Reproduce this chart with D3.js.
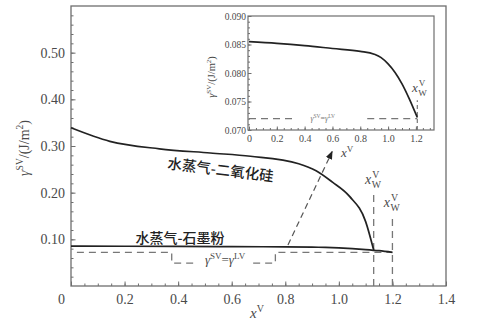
<!DOCTYPE html>
<html>
<head>
<meta charset="utf-8">
<script src="https://cdn.jsdelivr.net/npm/d3@7"></script>
<style>
  html, body { margin: 0; padding: 0; background: #fff; }
  svg { display: block; }
</style>
</head>
<body>
<svg id="chart" width="487" height="326"></svg>
<script>
// ---- data ----
const xTicks = [0, 0.2, 0.4, 0.6, 0.8, 1.0, 1.2, 1.4];
const yTicks = [0.10, 0.20, 0.30, 0.40, 0.50];
const insetXTicks = [0, 0.2, 0.4, 0.6, 0.8, 1.0, 1.2];
const insetYTicks = [0.070, 0.075, 0.080, 0.085, 0.090];

// water vapour – silica
const sio2X = [0, 0.145, 0.33, 0.52, 0.67, 0.85, 0.915, 0.975, 1.04, 1.10, 1.13];
const sio2Y = [0.339, 0.310, 0.294, 0.285, 0.278, 0.262, 0.247, 0.223, 0.192, 0.138, 0.077];

// water vapour – graphite powder
const graphiteX = [0, 0.2, 0.4, 0.6, 0.8, 0.9, 0.95, 1.0, 1.05, 1.1, 1.15, 1.21];
const graphiteY = [0.0855, 0.0852, 0.0848, 0.0843, 0.0838, 0.0833, 0.0827, 0.0816, 0.0801, 0.0781, 0.0756, 0.0722];

const gammaLV = 0.072;       // γSV = γLV level
const xwSiO2 = 1.13;         // wetting limit, silica
const xwGraphite = 1.21;     // wetting limit, graphite

const labelSiO2 = "水蒸气-二氧化硅";
const labelGraphite = "水蒸气-石墨粉";

// ---- setup ----
const svg = d3.select("#chart");
const serif = '"Liberation Serif", "DejaVu Serif", "Times New Roman", serif';
const cjk = '"Noto Sans CJK SC", sans-serif';
const axisCol = "#6e6e6e";
const textCol = "#4a4a4a";
const lineCol = "#222";
const dashCol = "#777";

const x = d3.scaleLinear().domain([0, 1.4]).range([71, 446]);
const y = d3.scaleLinear().domain([0, 0.6]).range([286, 6]);

// frame
svg.append("rect")
  .attr("x", x(0)).attr("y", y(0.6))
  .attr("width", x(1.4) - x(0)).attr("height", y(0) - y(0.6))
  .attr("fill", "none").attr("stroke", axisCol).attr("stroke-width", 1.3);

// minor + major ticks, inward
function styleAxis(g) {
  g.attr("font-family", null).attr("font-size", null);
  g.select(".domain").remove();
  g.selectAll(".tick line").attr("stroke", axisCol).attr("stroke-width", 1);
  g.selectAll(".tick text").attr("fill", textCol).attr("font-family", serif);
}

svg.append("g").attr("transform", `translate(0,${y(0)})`)
  .call(d3.axisBottom(x).tickValues(d3.range(0.05, 1.4, 0.05)).tickSize(-2.5).tickFormat(""))
  .call(styleAxis);
const xAxisG = svg.append("g").attr("transform", `translate(0,${y(0)})`)
  .call(d3.axisBottom(x).tickValues(xTicks).tickSize(-4.5).tickPadding(8)
    .tickFormat(d => d === 0 ? "0" : d3.format(".1f")(d)))
  .call(styleAxis);
xAxisG.selectAll(".tick text").attr("font-size", 14);
xAxisG.selectAll(".tick").filter(d => d === 0).select("text").attr("dx", -10);

svg.append("g").attr("transform", `translate(${x(0)},0)`)
  .call(d3.axisLeft(y).tickValues(d3.range(0.02, 0.59, 0.02)).tickSize(-2.5).tickFormat(""))
  .call(styleAxis);
const yAxisG = svg.append("g").attr("transform", `translate(${x(0)},0)`)
  .call(d3.axisLeft(y).tickValues(yTicks).tickSize(-4.5).tickPadding(6).tickFormat(d3.format(".2f")))
  .call(styleAxis);
yAxisG.selectAll(".tick text").attr("font-size", 14);

// axis titles
const xt = svg.append("text").attr("x", 257).attr("y", 318)
  .attr("text-anchor", "middle").attr("fill", textCol)
  .attr("font-family", serif).attr("font-size", 15);
xt.append("tspan").attr("font-style", "italic").text("x");
xt.append("tspan").attr("dy", -6).attr("font-size", 10).text("V");

const yt = svg.append("text")
  .attr("transform", "translate(29,148) rotate(-90)")
  .attr("text-anchor", "middle").attr("fill", textCol)
  .attr("font-family", serif).attr("font-size", 14);
yt.append("tspan").attr("font-style", "italic").text("γ");
yt.append("tspan").attr("dy", -6).attr("font-size", 9.5).text("SV");
yt.append("tspan").attr("dy", 6).text("/(J/m");
yt.append("tspan").attr("dy", -6).attr("font-size", 9.5).text("2");
yt.append("tspan").attr("dy", 6).text(")");

// dashed guides
function dashed(pts, sx, sy, dash, w) {
  svg.append("path")
    .attr("d", d3.line().x(d => sx(d[0])).y(d => sy(d[1]))(pts))
    .attr("fill", "none").attr("stroke", dashCol)
    .attr("stroke-width", w || 1.3).attr("stroke-dasharray", dash || "7,5");
}
const notchY = 0.049;
dashed([[0.022, gammaLV], [0.376, gammaLV], [0.376, notchY], [0.47, notchY]], x, y);
dashed([[0.68, notchY], [0.763, notchY], [0.763, gammaLV], [xwGraphite - 0.01, gammaLV]], x, y, "7,5");
dashed([[xwSiO2, 0], [xwSiO2, 0.201]], x, y);
dashed([[xwGraphite - 0.01, 0], [xwGraphite - 0.01, 0.148]], x, y);

// γSV = γLV label
const gl = svg.append("text").attr("x", x(0.575)).attr("y", 264)
  .attr("text-anchor", "middle").attr("fill", textCol)
  .attr("font-family", serif).attr("font-size", 13);
gl.append("tspan").attr("font-style", "italic").text("γ");
gl.append("tspan").attr("dy", -5).attr("font-size", 9).text("SV");
gl.append("tspan").attr("dy", 5).text("=");
gl.append("tspan").attr("font-style", "italic").text("γ");
gl.append("tspan").attr("dy", -5).attr("font-size", 9).text("LV");

// curves
const curve = d3.line().curve(d3.curveMonotoneX);
svg.append("path")
  .attr("d", curve.x(i => x(sio2X[i])).y(i => y(sio2Y[i]))(d3.range(sio2X.length)))
  .attr("fill", "none").attr("stroke", lineCol).attr("stroke-width", 1.7);
const gMain = graphiteX.map((v, i) => [v, graphiteY[i]]).filter(d => d[0] <= 1.2);
gMain.push([xwGraphite - 0.01, graphiteY[graphiteY.length - 1]]);
svg.append("path")
  .attr("d", d3.line().curve(d3.curveMonotoneX).x(d => x(d[0])).y(d => y(d[1]))(gMain))
  .attr("fill", "none").attr("stroke", lineCol).attr("stroke-width", 1.7);

// xW labels: italic x with stacked V superscript and W subscript
function xwLabel(cx, by, size) {
  const g = svg.append("g").attr("fill", textCol).attr("font-family", serif);
  g.append("text").attr("x", cx - size * 0.04).attr("y", by).attr("text-anchor", "end")
    .attr("font-style", "italic").attr("font-size", size).text("x");
  g.append("text").attr("x", cx + size * 0.04).attr("y", by - size * 0.45).attr("text-anchor", "start")
    .attr("font-size", size * 0.7).text("V");
  g.append("text").attr("x", cx).attr("y", by + size * 0.28).attr("text-anchor", "start")
    .attr("font-size", size * 0.7).text("W");
}
xwLabel(x(xwSiO2) - 2, 184, 14);
xwLabel(x(xwGraphite - 0.01) - 2, 207, 14);

// series labels
svg.append("text")
  .attr("transform", "translate(220,175) rotate(7)")
  .attr("text-anchor", "middle").attr("fill", lineCol)
  .attr("font-family", cjk).attr("font-size", 14.5).attr("font-weight", 500)
  .text(labelSiO2);
svg.append("text")
  .attr("x", 180).attr("y", 243)
  .attr("text-anchor", "middle").attr("fill", lineCol)
  .attr("font-family", cjk).attr("font-size", 14).attr("font-weight", 500)
  .text(labelGraphite);

// arrow to the inset
svg.append("defs").append("marker")
  .attr("id", "head").attr("viewBox", "0 0 10 10").attr("refX", 9).attr("refY", 5)
  .attr("markerWidth", 7).attr("markerHeight", 7).attr("orient", "auto")
  .append("path").attr("d", "M0,1 L10,5 L0,9 Z").attr("fill", lineCol);
svg.append("path")
  .attr("d", d3.line().x(d => x(d[0])).y(d => y(d[1]))([[0.81, 0.088], [0.975, 0.288]]))
  .attr("fill", "none").attr("stroke", "#555").attr("stroke-width", 1.2)
  .attr("stroke-dasharray", "6,4").attr("marker-end", "url(#head)");
const al = svg.append("text").attr("x", 341).attr("y", 157).attr("fill", textCol)
  .attr("font-family", serif).attr("font-size", 13);
al.append("tspan").attr("font-style", "italic").text("x");
al.append("tspan").attr("dy", -5).attr("font-size", 9).text("V");

// ---- inset ----
const ix = d3.scaleLinear().domain([0, 1.33]).range([249, 434]);
const iy = d3.scaleLinear().domain([0.070, 0.090]).range([130, 16]);

svg.append("rect")
  .attr("x", ix(0) - 1).attr("y", iy(0.090))
  .attr("width", ix(1.33) - ix(0) + 1).attr("height", iy(0.070) - iy(0.090))
  .attr("fill", "#fff").attr("stroke", axisCol).attr("stroke-width", 1.2);

svg.append("g").attr("transform", `translate(0,${iy(0.070)})`)
  .call(d3.axisBottom(ix).tickValues(d3.range(0.05, 1.33, 0.05)).tickSize(-2).tickFormat(""))
  .call(styleAxis);
const ixG = svg.append("g").attr("transform", `translate(0,${iy(0.070)})`)
  .call(d3.axisBottom(ix).tickValues(insetXTicks).tickSize(-3.5).tickPadding(5)
    .tickFormat(d => d === 0 ? "0" : d3.format(".1f")(d)))
  .call(styleAxis);
ixG.selectAll(".tick text").attr("font-size", 10);

svg.append("g").attr("transform", `translate(${ix(0) - 1},0)`)
  .call(d3.axisLeft(iy).tickValues(d3.range(0.071, 0.0895, 0.001)).tickSize(-2).tickFormat(""))
  .call(styleAxis);
const iyG = svg.append("g").attr("transform", `translate(${ix(0) - 1},0)`)
  .call(d3.axisLeft(iy).tickValues(insetYTicks).tickSize(-3.5).tickPadding(2).tickFormat(d3.format(".3f")))
  .call(styleAxis);
iyG.selectAll(".tick text").attr("font-size", 9.5);

const iyt = svg.append("text")
  .attr("transform", "translate(215,77) rotate(-90)")
  .attr("text-anchor", "middle").attr("fill", textCol)
  .attr("font-family", serif).attr("font-size", 10.5);
iyt.append("tspan").attr("font-style", "italic").text("γ");
iyt.append("tspan").attr("dy", -4).attr("font-size", 7).text("SV");
iyt.append("tspan").attr("dy", 4).text("/(J/m");
iyt.append("tspan").attr("dy", -4).attr("font-size", 7).text("2");
iyt.append("tspan").attr("dy", 4).text(")");

dashed([[0, gammaLV], [0.345, gammaLV]], ix, iy, "7,5", 1.2);
dashed([[0.85, gammaLV], [xwGraphite, gammaLV]], ix, iy, "7,5", 1.2);
dashed([[xwGraphite, 0.070], [xwGraphite, 0.0752]], ix, iy, "4,3", 1.2);

const igl = svg.append("text").attr("x", ix(0.53)).attr("y", iy(gammaLV) + 2)
  .attr("text-anchor", "middle").attr("fill", "#777")
  .attr("font-family", serif).attr("font-size", 8);
igl.append("tspan").attr("font-style", "italic").text("γ");
igl.append("tspan").attr("dy", -3).attr("font-size", 5.5).text("SV");
igl.append("tspan").attr("dy", 3).text("=");
igl.append("tspan").attr("font-style", "italic").text("γ");
igl.append("tspan").attr("dy", -3).attr("font-size", 5.5).text("LV");

svg.append("path")
  .attr("d", d3.line().curve(d3.curveMonotoneX).x(i => ix(graphiteX[i])).y(i => iy(graphiteY[i]))(d3.range(graphiteX.length)))
  .attr("fill", "none").attr("stroke", lineCol).attr("stroke-width", 1.7);

xwLabel(ix(xwGraphite) + 1, 92, 13);
</script>
</body>
</html>
